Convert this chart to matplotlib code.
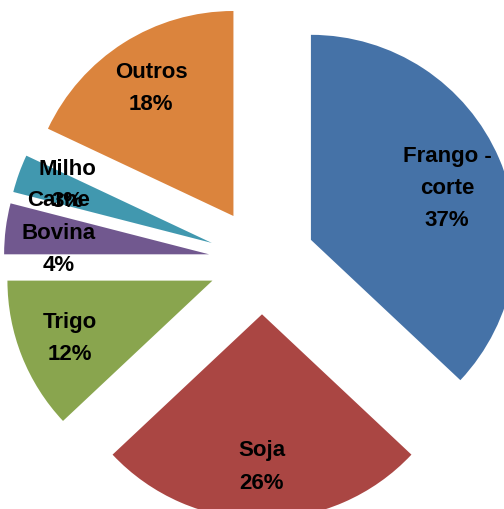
import matplotlib
matplotlib.use("Agg")
import matplotlib.pyplot as plt

categories = ["Frango -\ncorte", "Soja", "Trigo", "Carne\nBovina", "Milho", "Outros"]
values = [37, 26, 12, 4, 3, 18]
colors = ["#4572A7", "#AA4643", "#89A54E", "#71588F", "#4198AF", "#DB843D"]

labels = [f"{c}\n{v}%" for c, v in zip(categories, values)]
# small label nudges in pixels (dx, dy), y downward
nudges = [(-5, 10), (0, -1), (0, 1), (2, -2), (0, -5), (0, 2)]

W, H = 504, 509
fig = plt.figure(figsize=(W / 100, H / 100), dpi=100)
ax = fig.add_axes([0, 0, 1, 1])
ax.axis("off")

r_px = 205.0
cx, cy = 262.0, 261.0

wedges, texts = ax.pie(values, colors=colors, labels=labels, startangle=90, counterclock=False,
       explode=[0.26] * len(values), radius=1.0, labeldistance=0.75,
       wedgeprops=dict(linewidth=0),
       textprops=dict(ha="center", va="center", fontsize=16, fontweight="bold",
                      family=["Liberation Sans", "DejaVu Sans"], color="black",
                      linespacing=1.7))

for t, (dx, dy) in zip(texts, nudges):
    x, y = t.get_position()
    t.set_position((x + dx / r_px, y - dy / r_px))

ax.set_aspect("auto")
ax.set_xlim((0 - cx) / r_px, (W - cx) / r_px)
ax.set_ylim(-(H - cy) / r_px, cy / r_px)

fig.savefig("out.png", dpi=100)
